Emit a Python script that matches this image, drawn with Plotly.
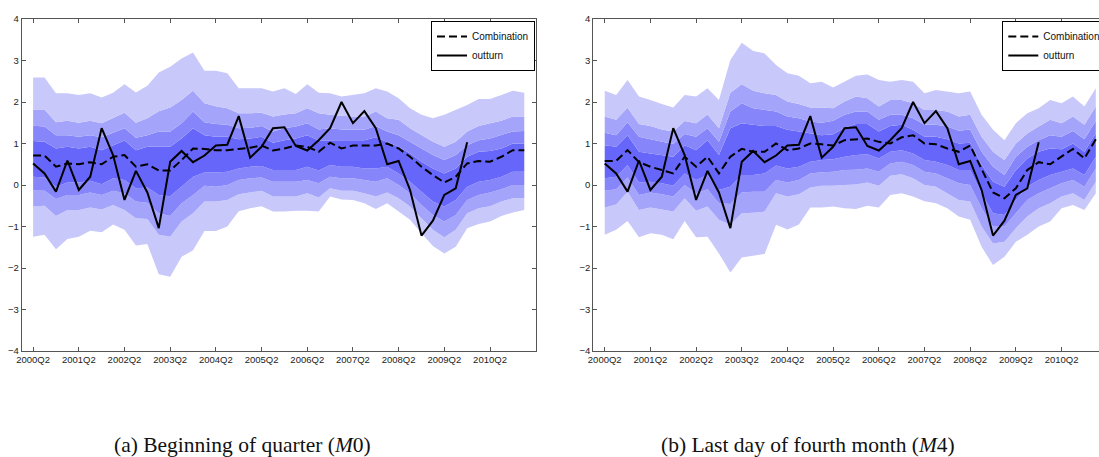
import plotly.graph_objects as go

# ---------------- data ----------------
quarters = []
for y in range(2000, 2012):
    for q in range(1, 5):
        quarters.append(f"{y}Q{q}")
quarters = quarters[1:45]          # 2000Q2 .. 2011Q1 (44 quarters)
tick_labels = [f"{y}Q2" for y in range(2000, 2011)]

outturn = [0.52, 0.28, -0.16, 0.59, -0.12, 0.2, 1.37, 0.72, -0.36, 0.34,
           -0.18, -1.04, 0.56, 0.82, 0.55, 0.71, 0.95, 0.97, 1.66, 0.66,
           0.92, 1.37, 1.39, 0.94, 0.83, 1.08, 1.37, 2.0, 1.49, 1.78,
           1.37, 0.5, 0.58, -0.12, -1.22, -0.86, -0.24, -0.08, 1.03]

# panel (a) M0
comb_a = [0.71, 0.71, 0.44, 0.52, 0.5, 0.55, 0.5, 0.68, 0.72, 0.44,
          0.5, 0.35, 0.35, 0.6, 0.88, 0.87, 0.84, 0.84, 0.87, 0.9,
          0.95, 0.83, 0.88, 0.95, 0.92, 0.8, 1.02, 0.88, 0.95, 0.95,
          0.95, 1.0, 0.88, 0.68, 0.44, 0.24, 0.06, 0.2, 0.52, 0.58,
          0.56, 0.68, 0.84, 0.84]
u4_a = [2.59, 2.59, 2.21, 2.21, 2.17, 2.21, 2.11, 2.22, 2.43, 2.23,
        2.39, 2.71, 2.85, 3.05, 3.19, 2.75, 2.75, 2.69, 2.33, 2.33,
        2.33, 2.25, 2.33, 2.19, 2.43, 2.22, 2.21, 2.13, 2.17, 2.21,
        2.33, 2.25, 2.09, 1.85, 1.69, 1.61, 1.69, 1.81, 1.93, 2.07,
        2.07, 2.17, 2.27, 2.22]
u3_a = [1.82, 1.82, 1.51, 1.55, 1.5, 1.55, 1.49, 1.61, 1.74, 1.5,
        1.61, 1.78, 1.87, 2.05, 2.27, 1.97, 1.9, 1.85, 1.73, 1.73,
        1.74, 1.65, 1.7, 1.73, 1.85, 1.73, 1.69, 1.67, 1.65, 1.65,
        1.77, 1.61, 1.57, 1.37, 1.2, 1.04, 0.92, 1.04, 1.29, 1.42,
        1.49, 1.55, 1.65, 1.65]
u2_a = [1.43, 1.41, 1.2, 1.2, 1.16, 1.2, 1.15, 1.26, 1.37, 1.14,
        1.2, 1.29, 1.29, 1.49, 1.77, 1.51, 1.47, 1.45, 1.37, 1.38,
        1.42, 1.29, 1.37, 1.41, 1.49, 1.34, 1.37, 1.34, 1.33, 1.33,
        1.42, 1.29, 1.2, 1.04, 0.88, 0.72, 0.6, 0.72, 0.96, 1.08,
        1.12, 1.2, 1.29, 1.3]
u1_a = [1.06, 1.04, 0.88, 0.92, 0.88, 0.92, 0.84, 0.95, 1.07, 0.84,
        0.92, 0.92, 0.92, 1.12, 1.37, 1.2, 1.16, 1.16, 1.1, 1.12,
        1.16, 1.02, 1.08, 1.12, 1.2, 1.07, 1.08, 1.08, 1.08, 1.08,
        1.15, 1.04, 0.92, 0.76, 0.56, 0.4, 0.28, 0.4, 0.68, 0.8,
        0.82, 0.88, 1.0, 1.0]
l1_a = [0.2, 0.18, -0.04, 0.06, 0.06, 0.1, 0.02, 0.16, 0.12, -0.08,
        -0.06, -0.24, -0.27, -0.04, 0.2, 0.3, 0.3, 0.32, 0.4, 0.44,
        0.46, 0.36, 0.36, 0.36, 0.44, 0.35, 0.48, 0.44, 0.44, 0.4,
        0.4, 0.44, 0.28, 0.08, -0.16, -0.4, -0.52, -0.36, -0.04, 0.08,
        0.12, 0.2, 0.32, 0.32]
l2_a = [-0.13, -0.14, -0.34, -0.24, -0.24, -0.18, -0.24, -0.14, -0.2, -0.4,
        -0.43, -0.68, -0.75, -0.44, -0.24, -0.02, -0.04, 0.0, 0.12, 0.16,
        0.18, 0.08, 0.08, 0.08, 0.12, 0.04, 0.2, 0.16, 0.16, 0.12,
        0.08, 0.16, 0.0, -0.2, -0.48, -0.72, -0.88, -0.72, -0.36, -0.24,
        -0.18, -0.1, 0.0, 0.0]
l3_a = [-0.52, -0.5, -0.75, -0.6, -0.6, -0.54, -0.59, -0.48, -0.6, -0.8,
        -0.82, -1.2, -1.25, -0.88, -0.68, -0.4, -0.4, -0.36, -0.22, -0.18,
        -0.14, -0.28, -0.28, -0.28, -0.2, -0.3, -0.08, -0.14, -0.14, -0.2,
        -0.28, -0.18, -0.32, -0.52, -0.8, -1.08, -1.26, -1.08, -0.68, -0.56,
        -0.51, -0.4, -0.32, -0.32]
l4_a = [-1.25, -1.2, -1.55, -1.3, -1.25, -1.1, -1.14, -0.95, -1.08, -1.46,
        -1.42, -2.15, -2.21, -1.73, -1.57, -1.11, -1.11, -1.0, -0.63, -0.56,
        -0.51, -0.64, -0.64, -0.62, -0.62, -0.64, -0.28, -0.35, -0.36, -0.44,
        -0.58, -0.44, -0.64, -0.84, -1.16, -1.47, -1.65, -1.49, -1.04, -0.94,
        -0.88, -0.75, -0.66, -0.6]

# panel (b) M4
comb_b = [0.58, 0.58, 0.84, 0.55, 0.44, 0.36, 0.28, 0.68, 0.44, 0.68,
          0.28, 0.68, 0.87, 0.8, 0.8, 1.0, 0.84, 0.88, 1.0, 0.98,
          0.95, 1.08, 1.1, 1.12, 1.04, 1.0, 1.15, 1.2, 1.0, 0.98,
          0.88, 0.8, 0.95, 0.4, -0.18, -0.32, -0.08, 0.36, 0.55, 0.5,
          0.68, 0.87, 0.64, 1.1]
u4_b = [2.27, 2.17, 2.53, 2.13, 2.05, 1.95, 1.87, 2.17, 2.13, 2.33,
        2.05, 3.01, 3.43, 3.23, 3.17, 2.89, 2.69, 2.63, 2.45, 2.49,
        2.35, 2.5, 2.63, 2.66, 2.53, 2.49, 2.53, 2.49, 2.21, 2.29,
        2.25, 2.21, 2.25, 1.69, 1.33, 1.08, 1.49, 1.73, 1.85, 2.05,
        1.97, 2.13, 1.89, 2.33]
u3_b = [1.65, 1.57, 1.86, 1.47, 1.42, 1.34, 1.29, 1.54, 1.49, 1.7,
        1.37, 2.22, 2.43, 2.27, 2.21, 2.17, 2.01, 1.95, 1.87, 1.87,
        1.85, 2.01, 2.13, 2.09, 1.89, 2.05, 2.05, 1.97, 1.81, 1.81,
        1.77, 1.65, 1.69, 1.16, 0.8, 0.6, 1.0, 1.24, 1.41, 1.57,
        1.49, 1.65, 1.45, 1.89]
u2_b = [1.26, 1.2, 1.51, 1.16, 1.1, 1.04, 0.99, 1.23, 1.16, 1.37,
        1.04, 1.77, 1.97, 1.85, 1.81, 1.77, 1.65, 1.61, 1.53, 1.5,
        1.55, 1.69, 1.77, 1.77, 1.57, 1.69, 1.69, 1.61, 1.45, 1.45,
        1.41, 1.31, 1.34, 0.8, 0.44, 0.24, 0.68, 0.92, 1.08, 1.2,
        1.16, 1.3, 1.1, 1.54]
u1_b = [0.96, 0.92, 1.2, 0.8, 0.76, 0.72, 0.68, 0.96, 0.84, 1.08,
        0.72, 1.37, 1.49, 1.45, 1.42, 1.42, 1.33, 1.29, 1.24, 1.2,
        1.22, 1.38, 1.47, 1.47, 1.29, 1.42, 1.45, 1.33, 1.16, 1.16,
        1.1, 1.0, 1.02, 0.48, 0.08, -0.04, 0.36, 0.64, 0.8, 0.88,
        0.86, 1.0, 0.8, 1.24]
l1_b = [0.16, 0.2, 0.48, 0.06, 0.08, 0.04, -0.02, 0.28, 0.12, 0.24,
        -0.12, -0.04, 0.24, 0.24, 0.28, 0.47, 0.4, 0.44, 0.56, 0.6,
        0.62, 0.68, 0.72, 0.74, 0.64, 0.8, 0.84, 0.76, 0.6, 0.56,
        0.48, 0.36, 0.36, -0.2, -0.68, -0.72, -0.36, -0.04, 0.12, 0.24,
        0.32, 0.4, 0.24, 0.68]
l2_b = [-0.14, -0.1, 0.18, -0.24, -0.18, -0.22, -0.28, 0.0, -0.2, -0.1,
        -0.44, -0.46, -0.18, -0.16, -0.16, 0.12, 0.06, 0.12, 0.28, 0.31,
        0.32, 0.36, 0.37, 0.4, 0.32, 0.52, 0.56, 0.48, 0.32, 0.28,
        0.16, 0.04, 0.0, -0.56, -1.0, -1.0, -0.68, -0.36, -0.2, -0.08,
        0.04, 0.12, -0.04, 0.4]
l3_b = [-0.54, -0.47, -0.16, -0.6, -0.54, -0.59, -0.64, -0.32, -0.62, -0.52,
        -0.84, -0.96, -0.68, -0.67, -0.64, -0.2, -0.28, -0.22, -0.06, -0.02,
        -0.02, 0.0, 0.01, 0.06, -0.02, 0.22, 0.26, 0.16, 0.0, -0.04,
        -0.2, -0.36, -0.4, -1.0, -1.41, -1.37, -1.04, -0.76, -0.56, -0.44,
        -0.28, -0.2, -0.36, 0.08]
l4_b = [-1.2, -1.08, -0.87, -1.26, -1.16, -1.2, -1.31, -0.87, -1.26, -1.25,
        -1.65, -2.11, -1.75, -1.71, -1.66, -0.96, -1.07, -0.95, -0.54, -0.54,
        -0.52, -0.56, -0.58, -0.5, -0.54, -0.24, -0.2, -0.28, -0.39, -0.44,
        -0.56, -0.76, -0.84, -1.49, -1.93, -1.73, -1.37, -1.2, -1.0, -0.88,
        -0.56, -0.48, -0.6, -0.2]

captions = ["(a) Beginning of quarter (<i>M</i>0)",
            "(b) Last day of fourth month (<i>M</i>4)"]

# ---------------- style ----------------
C_OUT = "rgb(200,200,250)"
C_2 = "rgb(164,164,250)"
C_3 = "rgb(134,134,250)"
C_MID = "rgb(102,102,250)"
W, H = 1099, 457
AX_FONT = dict(family="Liberation Sans, Arial, sans-serif", size=9.5, color="#222")

fig = go.Figure()


def add_panel(xa, ya, legend, bands, comb):
    l4, l3, l2, l1, u1, u2, u3, u4 = bands
    fills = [None, C_OUT, C_2, C_3, C_MID, C_3, C_2, C_OUT]
    for arr, fc in zip([l4, l3, l2, l1, u1, u2, u3, u4], fills):
        fig.add_trace(go.Scatter(
            x=quarters, y=arr, xaxis=xa, yaxis=ya, mode="lines",
            line=dict(width=0, color="rgba(0,0,0,0)"),
            fill=None if fc is None else "tonexty",
            fillcolor=fc, showlegend=False, hoverinfo="skip"))
    fig.add_trace(go.Scatter(
        x=quarters, y=comb, xaxis=xa, yaxis=ya, mode="lines", name="Combination",
        line=dict(color="black", width=2, dash="8px,4px"), legend=legend))
    fig.add_trace(go.Scatter(
        x=quarters[:len(outturn)], y=outturn, xaxis=xa, yaxis=ya, mode="lines",
        name="outturn", line=dict(color="black", width=2), legend=legend))


add_panel("x", "y", "legend", [l4_a, l3_a, l2_a, l1_a, u1_a, u2_a, u3_a, u4_a], comb_a)
add_panel("x2", "y2", "legend2", [l4_b, l3_b, l2_b, l1_b, u1_b, u2_b, u3_b, u4_b], comb_b)

ydom = [1 - 351 / H, 1 - 19 / H]
common_x = dict(type="category", categoryorder="array", categoryarray=quarters,
                tickmode="array", tickvals=tick_labels, ticktext=tick_labels,
                ticks="inside", ticklen=4, tickcolor="#555", showline=True,
                linecolor="#555", linewidth=1, showgrid=False, zeroline=False,
                tickfont=AX_FONT, tickangle=0)
common_y = dict(range=[-4, 4], tickmode="array", tickvals=list(range(-4, 5)),
                ticks="inside", ticklen=4, tickcolor="#555", showline=True,
                linecolor="#555", linewidth=1, showgrid=False, zeroline=False,
                tickfont=AX_FONT)

leg_common = dict(font=dict(family="Liberation Sans, Arial, sans-serif", size=10, color="#111"),
                  bgcolor="white", bordercolor="black", borderwidth=1,
                  xanchor="left", yanchor="top", tracegroupgap=0,
                  traceorder="normal")

fig.update_layout(
    width=W, height=H,
    margin=dict(l=0, r=0, t=0, b=0, autoexpand=False),
    paper_bgcolor="white", plot_bgcolor="white",
    xaxis=dict(common_x, domain=[21.7 / W, 535.7 / W], range=[-1, 44],
               mirror="ticks", anchor="y"),
    yaxis=dict(common_y, domain=ydom, mirror="ticks", anchor="x"),
    xaxis2=dict(common_x, domain=[593.3 / W, 1.0], range=[-1, 43.28],
                mirror="ticks", anchor="y2"),
    yaxis2=dict(common_y, domain=ydom, mirror=False, anchor="x2"),
    legend=dict(leg_common, x=431 / W, y=1 - 21 / H),
    legend2=dict(leg_common, x=1002.3 / W, y=1 - 21 / H),
    showlegend=True,
)

for cx, txt in zip([242 / W, 808 / W], captions):
    fig.add_annotation(x=cx, y=1 - 445 / H, xref="paper", yref="paper",
                       text=txt, showarrow=False, xanchor="center", yanchor="middle",
                       font=dict(family="Liberation Serif, Times New Roman, serif",
                                 size=21.5, color="#111"))

fig.write_html("out.html")
